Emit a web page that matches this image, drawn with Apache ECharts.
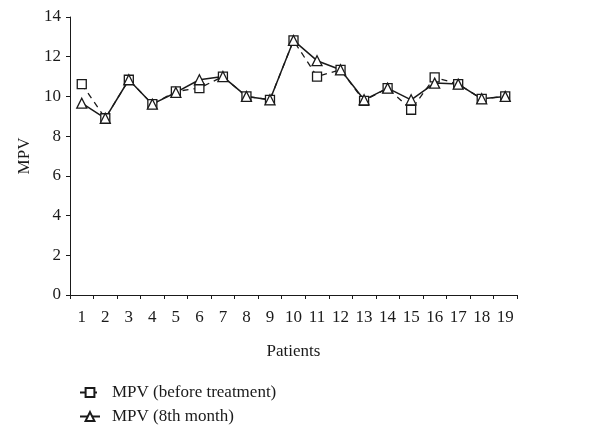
<!DOCTYPE html>
<html>
<head>
<meta charset="utf-8">
<script src="https://cdn.jsdelivr.net/npm/echarts@6/dist/echarts.min.js"></script>
<style>html,body{margin:0;padding:0;background:#fff}#c{width:613px;height:429px}</style>
</head>
<body>
<div id="c"></div>
<script>
const categories = ['1','2','3','4','5','6','7','8','9','10','11','12','13','14','15','16','17','18','19'];
const beforeTreatment = [10.62, 8.9, 10.84, 9.61, 10.25, 10.42, 11.0, 10.0, 9.83, 12.82, 11.0, 11.34, 9.78, 10.42, 9.33, 10.96, 10.62, 9.88, 10.0];
const month8 = [9.66, 8.9, 10.84, 9.61, 10.2, 10.84, 11.0, 10.0, 9.83, 12.82, 11.8, 11.34, 9.83, 10.42, 9.83, 10.67, 10.62, 9.88, 10.0];
const seriesNames = ['MPV (before treatment)', 'MPV (8th month)'];

const font = '"Liberation Serif", "DejaVu Serif", serif';
const ink = '#1a1a1a';
const chart = echarts.init(document.getElementById('c'), null, {renderer: 'canvas'});
chart.setOption({
  animation: false,
  backgroundColor: '#fff',
  grid: {left: 70, right: 96, top: 17, bottom: 134, containLabel: false},
  legend: {
    orient: 'vertical',
    left: 79,
    top: 384,
    height: 45,
    padding: 0,
    itemGap: 7,
    itemWidth: 20,
    itemHeight: 11,
    textStyle: {fontFamily: font, fontSize: 17, color: ink, padding: [0, 0, 0, 7]},
    data: seriesNames
  },
  xAxis: {
    type: 'category',
    data: categories,
    boundaryGap: true,
    name: 'Patients',
    nameLocation: 'middle',
    nameGap: 48,
    nameTextStyle: {fontFamily: font, fontSize: 17, color: ink},
    axisLine: {lineStyle: {color: ink, width: 1}},
    axisTick: {show: true, inside: false, length: 4, lineStyle: {color: ink}},
    axisLabel: {fontFamily: font, fontSize: 17, color: ink, margin: 14, interval: 0},
    splitLine: {show: false}
  },
  yAxis: {
    type: 'value',
    min: 0, max: 14, interval: 2,
    name: 'MPV',
    nameLocation: 'middle',
    nameGap: 32,
    nameRotate: 90,
    nameTextStyle: {fontFamily: font, fontSize: 17, color: ink},
    axisLine: {show: true, lineStyle: {color: ink, width: 1}},
    axisTick: {show: true, length: 4, lineStyle: {color: ink}},
    axisLabel: {fontFamily: font, fontSize: 17, color: ink, margin: 9},
    splitLine: {show: false}
  },
  series: [
    {
      name: seriesNames[0],
      type: 'line',
      data: beforeTreatment,
      symbol: 'rect',
      symbolSize: 9,
      showAllSymbol: true,
      lineStyle: {color: ink, width: 1.3, type: [6, 5]},
      itemStyle: {color: '#fff', borderColor: ink, borderWidth: 1.3}
    },
    {
      name: seriesNames[1],
      type: 'line',
      data: month8,
      symbol: 'triangle',
      symbolSize: 10,
      showAllSymbol: true,
      lineStyle: {color: ink, width: 1.5, type: 'solid'},
      itemStyle: {color: '#fff', borderColor: ink, borderWidth: 1.3}
    }
  ]
});
</script>
</body>
</html>
